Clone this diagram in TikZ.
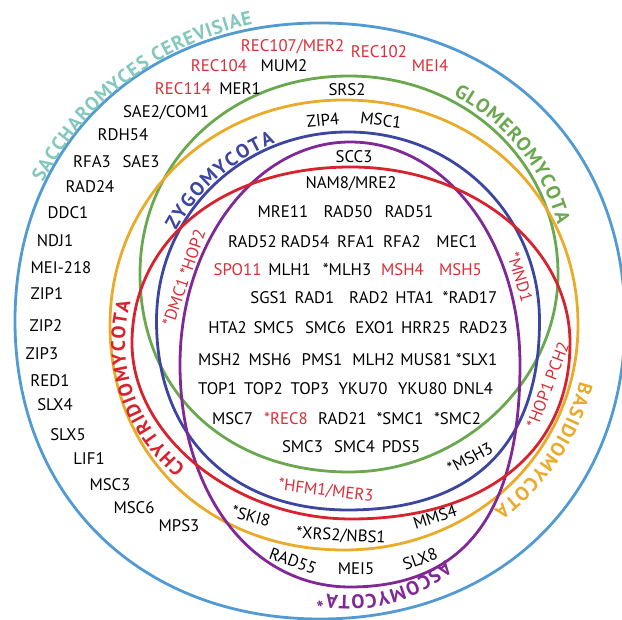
\documentclass[tikz,border=0pt]{standalone}
\usepackage{fontspec}
\setmainfont{PT Sans}
\usetikzlibrary{decorations.text,calc}
\definecolor{cblue}{RGB}{82,155,210}
\definecolor{cgreen}{RGB}{106,168,79}
\definecolor{corange}{RGB}{234,170,42}
\definecolor{cred}{RGB}{214,35,45}
\definecolor{cdblue}{RGB}{60,70,160}
\definecolor{cpurple}{RGB}{128,40,150}
\definecolor{cteal}{RGB}{130,200,188}
\definecolor{cgene}{RGB}{218,45,55}
\newcommand\genefont{\fontsize{16.8pt}{18pt}\selectfont}
\newcommand\arcfont{\bfseries\fontsize{19.5pt}{20pt}\selectfont}
% cx cy rx ry kUR kUL kLL kLR
\newcommand\ringpath[8]{%
 (#1+#3,#2) .. controls (#1+#3,#2+#5*#4) and (#1+#5*#3,#2+#4) .. (#1,#2+#4)
 .. controls (#1-#6*#3,#2+#4) and (#1-#3,#2+#6*#4) .. (#1-#3,#2)
 .. controls (#1-#3,#2-#7*#4) and (#1-#7*#3,#2-#4) .. (#1,#2-#4)
 .. controls (#1+#8*#3,#2-#4) and (#1+#3,#2-#8*#4) .. (#1+#3,#2) -- cycle}
\tikzset{
  g/.style={font=\genefont, inner sep=0pt, text height=11.7pt, text depth=0pt, text=black},
  gr/.style={g, text=cgene},
  ring/.style={line width=2.8pt, line join=round},
}
\begin{document}
\begin{tikzpicture}[x=1pt,y=1pt]
\useasboundingbox (0,0) rectangle (622,620);
% rings
\draw[ring,cblue] \ringpath{320}{299}{305}{298}{0.59}{0.59}{0.59}{0.59};
\draw[ring,cgreen] \ringpath{349}{346}{209}{198}{0.56}{0.57}{0.59}{0.54};
\draw[ring,corange] \ringpath{344}{295}{234}{225}{0.57}{0.565}{0.58}{0.56};
\draw[ring,cdblue] \ringpath{348}{299}{191.5}{189}{0.56}{0.56}{0.61}{0.655};
\draw[ring,cpurple] \ringpath{350}{255.5}{170}{222.5}{0.56}{0.55}{0.58}{0.67};
\draw[ring,cred] \ringpath{351}{277}{219}{176}{0.55}{0.585}{0.53}{0.615};
% ring labels
\path[decorate, decoration={text along path, text align={fit to path},
  text={|\arcfont\color{cteal}|SACCHAROMYCES CEREVISIAE}}]
  ($(320,299)+(153:311pt and 304pt)$) arc[start angle=153, end angle=102.5, x radius=311pt, y radius=304pt];
\path[decorate, decoration={text along path, text align={fit to path},
  text={|\arcfont\color{cgreen}|GLOMEROMYCOTA}}]
  ($(349,346)+(61:215pt and 204pt)$) arc[start angle=61, end angle=14, x radius=215pt, y radius=204pt];
\path[decorate, decoration={text along path, text align={fit to path},
  text={|\arcfont\color{cdblue}|ZYGOMYCOTA}}]
  ($(348,299)+(152:194.5pt and 192pt)$) arc[start angle=152, end angle=112, x radius=194.5pt, y radius=192pt];
\path[decorate, decoration={text along path, text align={fit to path},
  text={|\arcfont\color{cred}|CHYTRIDIOMYCOTA}}]
  ($(351,277)+(223:226pt and 183pt)$) arc[start angle=223, end angle=167, x radius=226pt, y radius=183pt];
\path[decorate, decoration={text along path, text align={fit to path},
  text={|\arcfont\color{corange}|BASIDIOMYCOTA}}]
  ($(344,295)+(-14:243pt and 234pt)$) arc[start angle=-14, end angle=-52, x radius=243pt, y radius=234pt];
\path[decorate, decoration={text along path, text align={fit to path},
  text={|\arcfont\color{cpurple}|ASCOMYCOTA*}}]
  ($(350,255.5)+(-58:180pt and 231pt)$) arc[start angle=-58, end angle=-100, x radius=180pt, y radius=231pt];
% outer genes (S. cerevisiae only)
\node[gr] (rec107) at (292.5,574) {REC107/MER2};
\node[gr] (rec102) at (379,568) {REC102};
\node[gr] (mei4) at (430,554) {MEI4};
\node[gr] (rec104) at (219,554) {REC104};
\node[g] (mum2) at (284,554) {MUM2};
\node[gr] (rec114) at (183,531) {REC114};
\node[g] (mer1) at (240,531) {MER1};
\node[g] (sae2) at (166,508) {SAE2/COM1};
\node[g] (rdh54) at (123,485) {RDH54};
\node[g] (rfa3) at (92,458) {RFA3};
\node[g] (sae3) at (141,458) {SAE3};
\node[g] (rad24) at (90,433) {RAD24};
\node[g] (ddc1) at (68,407) {DDC1};
\node[g] (ndj1) at (55,379) {NDJ1};
\node[g] (mei218) at (61,352) {MEI-218};
\node[g] (zip1) at (47,326) {ZIP1};
\node[g] (zip2) at (46,294) {ZIP2};
\node[g] (zip3) at (42,266) {ZIP3};
\node[g] (red1) at (50,239) {RED1};
\node[g] (slx4) at (55,215) {SLX4};
\node[g] (slx5) at (68,185) {SLX5};
\node[g] (lif1) at (89,161) {LIF1};
\node[g] (msc3) at (110,135) {MSC3};
\node[g] (msc6) at (134,112) {MSC6};
\node[g] (mps3) at (179,94) {MPS3};
% inner genes
\node[g] (srs2) at (347,530) {SRS2};
\node[g, rotate=6] (zip4) at (323,500) {ZIP4};
\node[g, rotate=-7] (msc1) at (381,500) {MSC1};
\node[g] (scc3) at (354,463) {SCC3};
\node[g] (nam8) at (351,437) {NAM8/MRE2};
\node[g] (mre11) at (283,408.5) {MRE11};
\node[g] (rad50) at (348,408.5) {RAD50};
\node[g] (rad51) at (409,408.5) {RAD51};
\node[g] (rad52) at (252.5,378.5) {RAD52};
\node[g] (rad54) at (305,378.5) {RAD54};
\node[g] (rfa1) at (356,378.5) {RFA1};
\node[g] (rfa2) at (402,378.5) {RFA2};
\node[g] (mec1) at (457,378.5) {MEC1};
\node[gr] (spo11) at (237.5,350) {SPO11};
\node[g] (mlh1) at (289.5,350) {MLH1};
\node[g] (mlh3) at (347,350) {*MLH3};
\node[gr] (msh4) at (402.5,350) {MSH4};
\node[gr] (msh5) at (460.5,350) {MSH5};
\node[g] (sgs1) at (269,322) {SGS1};
\node[g] (rad1) at (314.5,322) {RAD1};
\node[g] (rad2) at (369,322) {RAD2};
\node[g] (hta1) at (414.5,322) {HTA1};
\node[g] (rad17) at (470,322) {*RAD17};
\node[g] (hta2) at (227.5,292) {HTA2};
\node[g] (smc5) at (274,292) {SMC5};
\node[g] (smc6) at (325.5,292) {SMC6};
\node[g] (exo1) at (375,292) {EXO1};
\node[g] (hrr25) at (426,292) {HRR25};
\node[g] (rad23) at (483.5,292) {RAD23};
\node[g] (msh2) at (219.5,260.5) {MSH2};
\node[g] (msh6) at (270,260.5) {MSH6};
\node[g] (pms1) at (322,260.5) {PMS1};
\node[g] (mlh2) at (373.5,260.5) {MLH2};
\node[g] (mus81) at (426,260.5) {MUS81};
\node[g] (slx1) at (476.5,260.5) {*SLX1};
\node[g] (top1) at (217.5,231) {TOP1};
\node[g] (top2) at (263.5,231) {TOP2};
\node[g] (top3) at (310,231) {TOP3};
\node[g] (yku70) at (363,231) {YKU70};
\node[g] (yku80) at (422.5,231) {YKU80};
\node[g] (dnl4) at (473,231) {DNL4};
\node[g] (msc7) at (232.5,201.5) {MSC7};
\node[gr] (rec8) at (286,201.5) {*REC8};
\node[g] (rad21) at (342.5,201.5) {RAD21};
\node[g] (smc1) at (400,201.5) {*SMC1};
\node[g] (smc2) at (457.5,201.5) {*SMC2};
\node[g] (smc3) at (302.5,173.5) {SMC3};
\node[g] (smc4) at (354.5,173.5) {SMC4};
\node[g] (pds5) at (401,173.5) {PDS5};
\node[g, rotate=28] (msh3) at (470,162) {*MSH3};
\node[gr, rotate=-7] (hfm1) at (326,130) {*HFM1/MER3};
\node[g, rotate=-15] (ski8) at (251,104) {*SKI8};
\node[g, rotate=-3] (xrs2) at (341,85) {*XRS2/NBS1};
\node[g, rotate=18] (mms4) at (435,103) {MMS4};
\node[g, rotate=-20] (rad55) at (293,59) {RAD55};
\node[g] (mei5) at (356,51) {MEI5};
\node[g, rotate=20] (slx8) at (420,61) {SLX8};
\node[gr, rotate=71] (dmc1) at (184,342) {*DMC1 *HOP2};
\node[gr, rotate=-73] (mnd1) at (520,343) {*MND1};
\node[gr, rotate=69] (hop1) at (548,235) {*HOP1 PCH2};
\end{tikzpicture}
\end{document}
